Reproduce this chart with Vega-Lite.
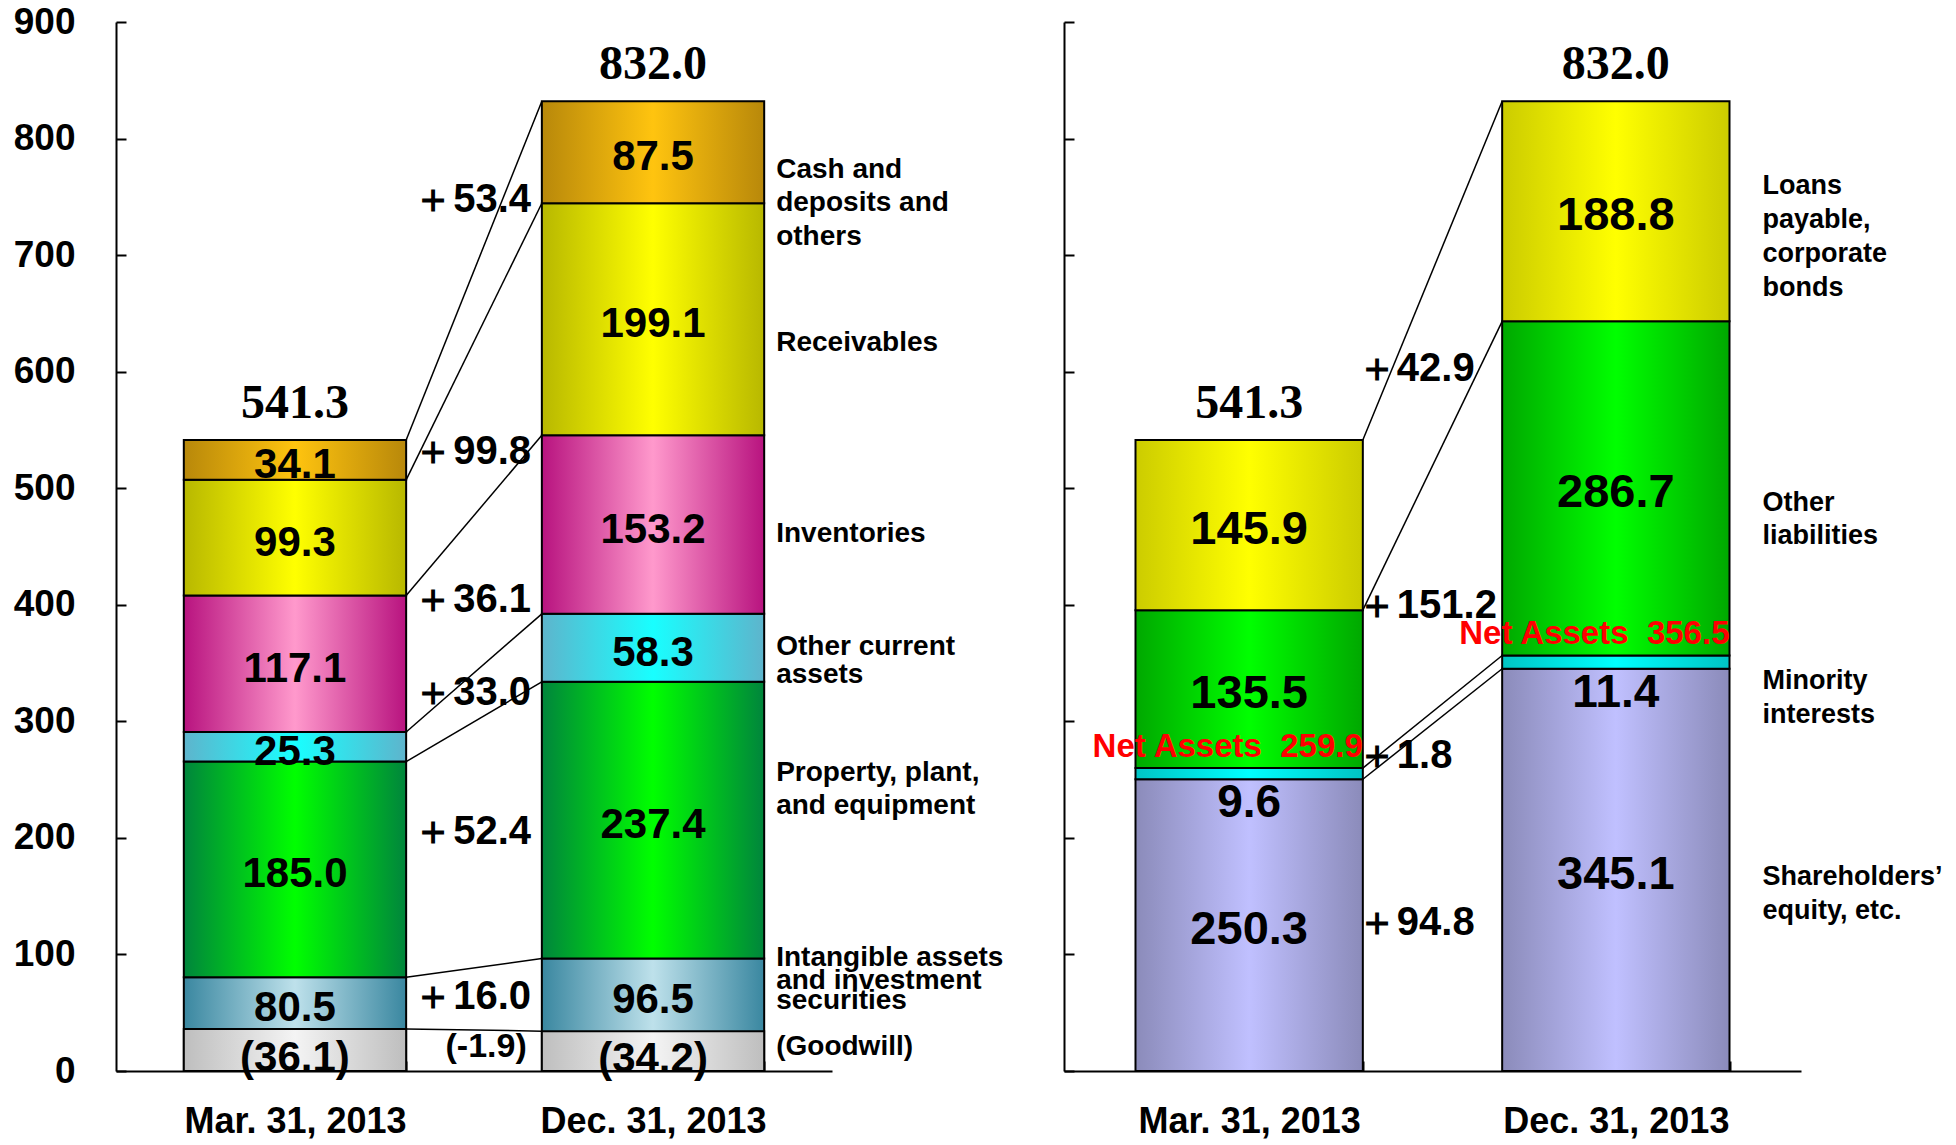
{
  "$schema": "https://vega.github.io/schema/vega-lite/v6.json",
  "background": "white",
  "padding": {"left": 13, "top": 3, "right": 0, "bottom": 0},
  "config": {
    "view": {"stroke": null},
    "axis": {
      "domainColor": "black", "tickColor": "black", "domainWidth": 2, "tickWidth": 2,
      "grid": false, "title": null, "labelColor": "black",
      "labelFont": "Liberation Sans, Arial, sans-serif",
      "labelFontWeight": "bold", "labelLimit": 0
    },
    "text": {"font": "Liberation Sans, Arial, sans-serif", "fontWeight": "bold", "color": "black"}
  },
  "datasets": {
    "assets": [
      {"date": "Mar. 31, 2013", "item": "Intangible assets and investment securities", "rank": 1, "value": 80.5, "goodwill": 36.1},
      {"date": "Mar. 31, 2013", "item": "Property, plant, and equipment", "rank": 2, "value": 185.0},
      {"date": "Mar. 31, 2013", "item": "Other current assets", "rank": 3, "value": 25.3},
      {"date": "Mar. 31, 2013", "item": "Inventories", "rank": 4, "value": 117.1},
      {"date": "Mar. 31, 2013", "item": "Receivables", "rank": 5, "value": 99.3},
      {"date": "Mar. 31, 2013", "item": "Cash and deposits and others", "rank": 6, "value": 34.1},
      {"date": "Dec. 31, 2013", "item": "Intangible assets and investment securities", "rank": 1, "value": 96.5, "goodwill": 34.2},
      {"date": "Dec. 31, 2013", "item": "Property, plant, and equipment", "rank": 2, "value": 237.4},
      {"date": "Dec. 31, 2013", "item": "Other current assets", "rank": 3, "value": 58.3},
      {"date": "Dec. 31, 2013", "item": "Inventories", "rank": 4, "value": 153.2},
      {"date": "Dec. 31, 2013", "item": "Receivables", "rank": 5, "value": 199.1},
      {"date": "Dec. 31, 2013", "item": "Cash and deposits and others", "rank": 6, "value": 87.5}
    ],
    "liabilities": [
      {"date": "Mar. 31, 2013", "item": "Shareholders’ equity, etc.", "rank": 1, "value": 250.3},
      {"date": "Mar. 31, 2013", "item": "Minority interests", "rank": 2, "value": 9.6},
      {"date": "Mar. 31, 2013", "item": "Other liabilities", "rank": 3, "value": 135.5},
      {"date": "Mar. 31, 2013", "item": "Loans payable, corporate bonds", "rank": 4, "value": 145.9},
      {"date": "Dec. 31, 2013", "item": "Shareholders’ equity, etc.", "rank": 1, "value": 345.1},
      {"date": "Dec. 31, 2013", "item": "Minority interests", "rank": 2, "value": 11.4},
      {"date": "Dec. 31, 2013", "item": "Other liabilities", "rank": 3, "value": 286.7},
      {"date": "Dec. 31, 2013", "item": "Loans payable, corporate bonds", "rank": 4, "value": 188.8}
    ],
    "assetLinks": [
      {"from": "Mar. 31, 2013", "to": "Dec. 31, 2013", "lo": 36.1, "hi": 34.2},
      {"from": "Mar. 31, 2013", "to": "Dec. 31, 2013", "lo": 80.5, "hi": 96.5},
      {"from": "Mar. 31, 2013", "to": "Dec. 31, 2013", "lo": 265.5, "hi": 333.9},
      {"from": "Mar. 31, 2013", "to": "Dec. 31, 2013", "lo": 290.8, "hi": 392.2},
      {"from": "Mar. 31, 2013", "to": "Dec. 31, 2013", "lo": 407.9, "hi": 545.4},
      {"from": "Mar. 31, 2013", "to": "Dec. 31, 2013", "lo": 507.2, "hi": 744.5},
      {"from": "Mar. 31, 2013", "to": "Dec. 31, 2013", "lo": 541.3, "hi": 832.0}
    ],
    "liabLinks": [
      {"from": "Mar. 31, 2013", "to": "Dec. 31, 2013", "lo": 250.3, "hi": 345.1},
      {"from": "Mar. 31, 2013", "to": "Dec. 31, 2013", "lo": 259.9, "hi": 356.5},
      {"from": "Mar. 31, 2013", "to": "Dec. 31, 2013", "lo": 395.4, "hi": 643.2},
      {"from": "Mar. 31, 2013", "to": "Dec. 31, 2013", "lo": 541.3, "hi": 832.0}
    ],
    "assetChanges": [
      {"text": "＋53.4", "at": 747.5, "kind": "main"},
      {"text": "＋99.8", "at": 531.5, "kind": "main"},
      {"text": "＋36.1", "at": 404.3, "kind": "main"},
      {"text": "＋33.0", "at": 324.0, "kind": "main"},
      {"text": "＋52.4", "at": 205.4, "kind": "main"},
      {"text": "＋16.0", "at": 63.2, "kind": "main"},
      {"text": "(-1.9)", "at": 20.3, "kind": "goodwill"}
    ],
    "liabChanges": [
      {"text": "＋42.9", "at": 602.4},
      {"text": "＋151.2", "at": 398.8},
      {"text": "＋1.8", "at": 270.3},
      {"text": "＋94.8", "at": 126.8}
    ],
    "assetNotes": [
      {"text": "Cash and", "at": 772.9},
      {"text": "deposits and", "at": 744.6},
      {"text": "others", "at": 715.4},
      {"text": "Receivables", "at": 624.6},
      {"text": "Inventories", "at": 460.9},
      {"text": "Other current", "at": 364.0},
      {"text": "assets", "at": 340.0},
      {"text": "Property, plant,", "at": 256.0},
      {"text": "and equipment", "at": 227.0},
      {"text": "Intangible assets", "at": 96.6},
      {"text": "and investment", "at": 76.9},
      {"text": "securities", "at": 59.8},
      {"text": "(Goodwill)", "at": 20.3}
    ],
    "liabNotes": [
      {"text": "Loans", "at": 758.9},
      {"text": "payable,", "at": 729.7},
      {"text": "corporate", "at": 701.3},
      {"text": "bonds", "at": 672.1},
      {"text": "Other", "at": 487.5},
      {"text": "liabilities", "at": 459.2},
      {"text": "Minority", "at": 334.9},
      {"text": "interests", "at": 305.7},
      {"text": "Shareholders’", "at": 166.4},
      {"text": "equity, etc.", "at": 137.2}
    ]
  },
  "spacing": 232,
  "bounds": "flush",
  "hconcat": [
    {
      "width": 716,
      "height": 1049,
      "layer": [
        {
          "data": {"name": "assets"},
          "transform": [
            {"stack": "value", "groupby": ["date"], "sort": [{"field": "rank", "order": "ascending"}], "as": ["base", "top"]}
          ],
          "mark": {"type": "bar", "stroke": "black", "strokeWidth": 2},
          "encoding": {
            "x": {
              "field": "date", "type": "nominal",
              "scale": {"domain": ["Mar. 31, 2013", "Dec. 31, 2013"], "paddingInner": 0.379, "paddingOuter": 0.1894},
              "axis": {"orient": "bottom", "labelAngle": 0, "tickBand": "extent", "tickSize": -10, "labelPadding": 43, "labelFontSize": 36, "labelBaseline": "top"}
            },
            "y": {
              "field": "top", "type": "quantitative",
              "scale": {"domain": [0, 900], "nice": false, "zero": true},
              "axis": {"values": [0, 100, 200, 300, 400, 500, 600, 700, 800, 900], "tickSize": -10, "labelPadding": 51, "labelFontSize": 37}
            },
            "y2": {"field": "base"},
            "fill": {
              "condition": [
                {"test": "datum.item === 'Cash and deposits and others'", "value": {"gradient": "linear", "x1": 0, "y1": 0, "x2": 1, "y2": 0, "stops": [{"offset": 0, "color": "#B8880A"}, {"offset": 0.5, "color": "#FFC40F"}, {"offset": 1, "color": "#B8880A"}]}},
                {"test": "datum.item === 'Receivables'", "value": {"gradient": "linear", "x1": 0, "y1": 0, "x2": 1, "y2": 0, "stops": [{"offset": 0, "color": "#B8B800"}, {"offset": 0.5, "color": "#FFFF00"}, {"offset": 1, "color": "#B8B800"}]}},
                {"test": "datum.item === 'Inventories'", "value": {"gradient": "linear", "x1": 0, "y1": 0, "x2": 1, "y2": 0, "stops": [{"offset": 0, "color": "#B8137F"}, {"offset": 0.5, "color": "#FF99CC"}, {"offset": 1, "color": "#B8137F"}]}},
                {"test": "datum.item === 'Other current assets'", "value": {"gradient": "linear", "x1": 0, "y1": 0, "x2": 1, "y2": 0, "stops": [{"offset": 0, "color": "#5EB4CC"}, {"offset": 0.5, "color": "#18FFFF"}, {"offset": 1, "color": "#5EB4CC"}]}},
                {"test": "datum.item === 'Property, plant, and equipment'", "value": {"gradient": "linear", "x1": 0, "y1": 0, "x2": 1, "y2": 0, "stops": [{"offset": 0, "color": "#00853C"}, {"offset": 0.5, "color": "#00FF00"}, {"offset": 1, "color": "#00853C"}]}}
              ],
              "value": {"gradient": "linear", "x1": 0, "y1": 0, "x2": 1, "y2": 0, "stops": [{"offset": 0, "color": "#3A87A0"}, {"offset": 0.5, "color": "#BEE1EB"}, {"offset": 1, "color": "#3A87A0"}]}
            }
          }
        },
        {
          "data": {"name": "assets"},
          "transform": [{"filter": "isValid(datum.goodwill)"}],
          "mark": {
            "type": "bar", "stroke": "black", "strokeWidth": 2,
            "fill": {"gradient": "linear", "x1": 0, "y1": 0, "x2": 1, "y2": 0, "stops": [{"offset": 0, "color": "#BEBEBE"}, {"offset": 0.5, "color": "#F4F4F4"}, {"offset": 1, "color": "#BEBEBE"}]}
          },
          "encoding": {
            "x": {"field": "date", "type": "nominal"},
            "y": {"field": "goodwill", "type": "quantitative"},
            "y2": {"datum": 0}
          }
        },
        {
          "data": {"name": "assetLinks"},
          "mark": {"type": "rule", "color": "black", "strokeWidth": 1.5},
          "encoding": {
            "x": {"field": "from", "type": "nominal", "bandPosition": 1},
            "x2": {"field": "to", "bandPosition": 0},
            "y": {"field": "lo", "type": "quantitative"},
            "y2": {"field": "hi"}
          }
        },
        {
          "data": {"name": "assets"},
          "transform": [
            {"stack": "value", "groupby": ["date"], "sort": [{"field": "rank", "order": "ascending"}], "as": ["base", "top"]},
            {"calculate": "(datum.base + (isValid(datum.goodwill) ? datum.goodwill : 0) + datum.top) / 2", "as": "mid"}
          ],
          "mark": {"type": "text", "fontSize": 42, "baseline": "middle", "dy": 5},
          "encoding": {
            "x": {"field": "date", "type": "nominal"},
            "y": {"field": "mid", "type": "quantitative"},
            "text": {"field": "value", "type": "quantitative", "format": ".1f"}
          }
        },
        {
          "data": {"name": "assets"},
          "transform": [
            {"filter": "isValid(datum.goodwill)"},
            {"calculate": "'(' + format(datum.goodwill, '.1f') + ')'", "as": "gwLabel"},
            {"calculate": "datum.goodwill / 2", "as": "gwMid"}
          ],
          "mark": {"type": "text", "fontSize": 42, "baseline": "middle", "dy": 8},
          "encoding": {
            "x": {"field": "date", "type": "nominal"},
            "y": {"field": "gwMid", "type": "quantitative"},
            "text": {"field": "gwLabel", "type": "nominal"}
          }
        },
        {
          "data": {"name": "assets"},
          "transform": [{"aggregate": [{"op": "sum", "field": "value", "as": "total"}], "groupby": ["date"]}],
          "mark": {"type": "text", "font": "Liberation Serif, Times New Roman, serif", "fontSize": 48, "fontWeight": "bold", "baseline": "alphabetic", "dy": -22},
          "encoding": {
            "x": {"field": "date", "type": "nominal"},
            "y": {"field": "total", "type": "quantitative"},
            "text": {"field": "total", "type": "quantitative", "format": ".1f"}
          }
        },
        {
          "data": {"name": "assetChanges"},
          "transform": [{"filter": "datum.kind === 'main'"}],
          "mark": {"type": "text", "fontSize": 40, "align": "left", "baseline": "middle", "dx": 7},
          "encoding": {
            "x": {"datum": "Mar. 31, 2013", "type": "nominal", "bandPosition": 1},
            "y": {"field": "at", "type": "quantitative"},
            "text": {"field": "text", "type": "nominal"}
          }
        },
        {
          "data": {"name": "assetChanges"},
          "transform": [{"filter": "datum.kind === 'goodwill'"}],
          "mark": {"type": "text", "fontSize": 34, "align": "center", "baseline": "middle", "dx": 80},
          "encoding": {
            "x": {"datum": "Mar. 31, 2013", "type": "nominal", "bandPosition": 1},
            "y": {"field": "at", "type": "quantitative"},
            "text": {"field": "text", "type": "nominal"}
          }
        },
        {
          "data": {"name": "assetNotes"},
          "mark": {"type": "text", "fontSize": 28, "align": "left", "baseline": "middle", "dx": 12},
          "encoding": {
            "x": {"datum": "Dec. 31, 2013", "type": "nominal", "bandPosition": 1},
            "y": {"field": "at", "type": "quantitative"},
            "text": {"field": "text", "type": "nominal"}
          }
        }
      ]
    },
    {
      "width": 737,
      "height": 1049,
      "layer": [
        {
          "data": {"name": "liabilities"},
          "transform": [
            {"stack": "value", "groupby": ["date"], "sort": [{"field": "rank", "order": "ascending"}], "as": ["base", "top"]}
          ],
          "mark": {"type": "bar", "stroke": "black", "strokeWidth": 2},
          "encoding": {
            "x": {
              "field": "date", "type": "nominal",
              "scale": {"domain": ["Mar. 31, 2013", "Dec. 31, 2013"], "paddingInner": 0.38, "paddingOuter": 0.195},
              "axis": {"orient": "bottom", "labelAngle": 0, "tickBand": "extent", "tickSize": -10, "labelPadding": 43, "labelFontSize": 36, "labelBaseline": "top"}
            },
            "y": {
              "field": "top", "type": "quantitative",
              "scale": {"domain": [0, 900], "nice": false, "zero": true},
              "axis": {"values": [0, 100, 200, 300, 400, 500, 600, 700, 800, 900], "tickSize": -10, "labels": false}
            },
            "y2": {"field": "base"},
            "fill": {
              "condition": [
                {"test": "datum.item === 'Loans payable, corporate bonds'", "value": {"gradient": "linear", "x1": 0, "y1": 0, "x2": 1, "y2": 0, "stops": [{"offset": 0, "color": "#CCCC00"}, {"offset": 0.5, "color": "#FFFF00"}, {"offset": 1, "color": "#CCCC00"}]}},
                {"test": "datum.item === 'Other liabilities'", "value": {"gradient": "linear", "x1": 0, "y1": 0, "x2": 1, "y2": 0, "stops": [{"offset": 0, "color": "#00A800"}, {"offset": 0.5, "color": "#00FF00"}, {"offset": 1, "color": "#00A800"}]}},
                {"test": "datum.item === 'Minority interests'", "value": {"gradient": "linear", "x1": 0, "y1": 0, "x2": 1, "y2": 0, "stops": [{"offset": 0, "color": "#00C4C4"}, {"offset": 0.5, "color": "#00FFFF"}, {"offset": 1, "color": "#00C4C4"}]}}
              ],
              "value": {"gradient": "linear", "x1": 0, "y1": 0, "x2": 1, "y2": 0, "stops": [{"offset": 0, "color": "#8B8BBA"}, {"offset": 0.5, "color": "#C0C0FF"}, {"offset": 1, "color": "#8B8BBA"}]}
            }
          }
        },
        {
          "data": {"name": "liabLinks"},
          "mark": {"type": "rule", "color": "black", "strokeWidth": 1.5},
          "encoding": {
            "x": {"field": "from", "type": "nominal", "bandPosition": 1},
            "x2": {"field": "to", "bandPosition": 0},
            "y": {"field": "lo", "type": "quantitative"},
            "y2": {"field": "hi"}
          }
        },
        {
          "data": {"name": "liabilities"},
          "transform": [
            {"stack": "value", "groupby": ["date"], "sort": [{"field": "rank", "order": "ascending"}], "as": ["base", "top"]},
            {"filter": "datum.item !== 'Minority interests'"},
            {"calculate": "(datum.base + datum.top) / 2", "as": "mid"}
          ],
          "mark": {"type": "text", "fontSize": 47, "baseline": "middle", "dy": 5},
          "encoding": {
            "x": {"field": "date", "type": "nominal"},
            "y": {"field": "mid", "type": "quantitative"},
            "text": {"field": "value", "type": "quantitative", "format": ".1f"}
          }
        },
        {
          "data": {"name": "liabilities"},
          "transform": [
            {"stack": "value", "groupby": ["date"], "sort": [{"field": "rank", "order": "ascending"}], "as": ["base", "top"]},
            {"filter": "datum.item === 'Minority interests'"}
          ],
          "mark": {"type": "text", "fontSize": 46, "baseline": "top", "dy": 2},
          "encoding": {
            "x": {"field": "date", "type": "nominal"},
            "y": {"field": "base", "type": "quantitative"},
            "text": {"field": "value", "type": "quantitative", "format": ".1f"}
          }
        },
        {
          "data": {"name": "liabilities"},
          "transform": [
            {"filter": "datum.item === 'Shareholders’ equity, etc.' || datum.item === 'Minority interests'"},
            {"aggregate": [{"op": "sum", "field": "value", "as": "net"}], "groupby": ["date"]},
            {"calculate": "'Net Assets\u00a0 ' + format(datum.net, '.1f')", "as": "netLabel"}
          ],
          "mark": {"type": "text", "fontSize": 33, "color": "#FF0000", "align": "right", "baseline": "bottom", "dy": -4},
          "encoding": {
            "x": {"field": "date", "type": "nominal", "bandPosition": 1},
            "y": {"field": "net", "type": "quantitative"},
            "text": {"field": "netLabel", "type": "nominal"}
          }
        },
        {
          "data": {"name": "liabilities"},
          "transform": [{"aggregate": [{"op": "sum", "field": "value", "as": "total"}], "groupby": ["date"]}],
          "mark": {"type": "text", "font": "Liberation Serif, Times New Roman, serif", "fontSize": 48, "fontWeight": "bold", "baseline": "alphabetic", "dy": -22},
          "encoding": {
            "x": {"field": "date", "type": "nominal"},
            "y": {"field": "total", "type": "quantitative"},
            "text": {"field": "total", "type": "quantitative", "format": ".1f"}
          }
        },
        {
          "data": {"name": "liabChanges"},
          "mark": {"type": "text", "fontSize": 40, "align": "left", "baseline": "middle", "dx": -6},
          "encoding": {
            "x": {"datum": "Mar. 31, 2013", "type": "nominal", "bandPosition": 1},
            "y": {"field": "at", "type": "quantitative"},
            "text": {"field": "text", "type": "nominal"}
          }
        },
        {
          "data": {"name": "liabNotes"},
          "mark": {"type": "text", "fontSize": 27, "align": "left", "baseline": "middle", "dx": 33},
          "encoding": {
            "x": {"datum": "Dec. 31, 2013", "type": "nominal", "bandPosition": 1},
            "y": {"field": "at", "type": "quantitative"},
            "text": {"field": "text", "type": "nominal"}
          }
        }
      ]
    }
  ]
}
